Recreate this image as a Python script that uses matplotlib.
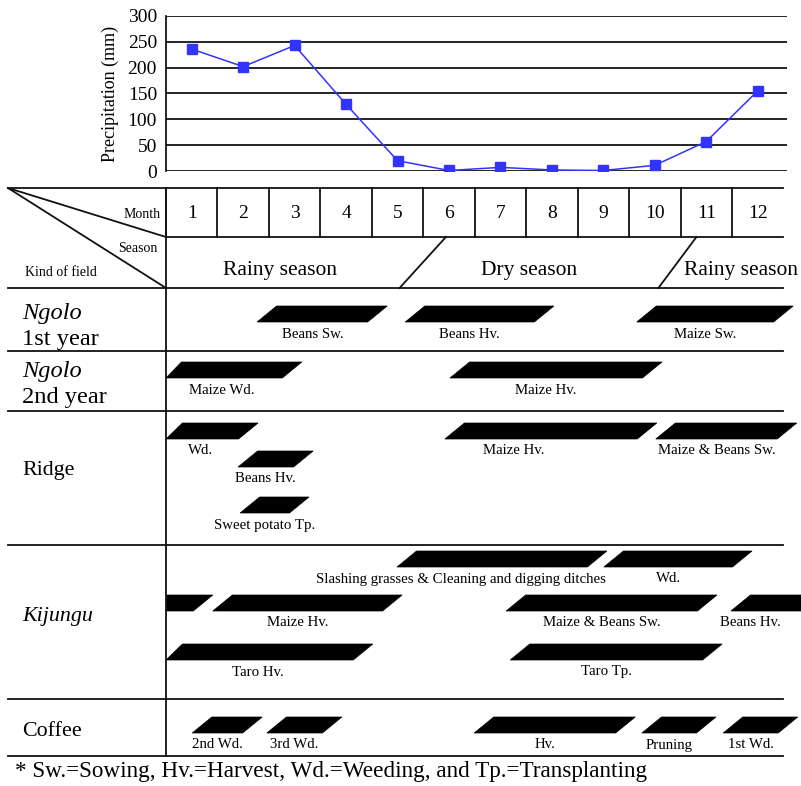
"""
Agricultural calendar with monthly precipitation
Top: precipitation line chart; bottom: work calendar per kind of field
Output: out.png
"""

import numpy as np
import matplotlib.pyplot as plt
from matplotlib.patches import Polygon

plt.rcParams["font.family"] = ["Liberation Serif", "DejaVu Serif"]

# ── Data ──────────────────────────────────────────────────────────────────────
MONTHS = list(range(1, 13))
PRECIP = [236, 202, 243, 129, 20, 1, 7, 2, 1, 11, 57, 155]   # mm

SEASONS       = ["Rainy season", "Dry season", "Rainy season"]
SEASON_X      = [2.22, 7.06, 11.18]                # label centre, months
SEASON_BREAKS = [(5.44, 4.54), (10.31, 9.57)]     # divider x at top / bottom

FIELDS       = ["Ngolo", "Ngolo", "Ridge", "Kijungu", "Coffee"]
FIELD_SUB    = ["1st year", "2nd year", "", "", ""]
FIELD_ITALIC = [True, True, False, True, False]

ACT_LABEL = ["Beans Sw.", "Beans Hv.", "Maize Sw.",
             "Maize Wd.", "Maize Hv.",
             "Wd.", "Beans Hv.", "Sweet potato Tp.", "Maize Hv.", "Maize & Beans Sw.",
             "Slashing grasses & Cleaning and digging ditches", "Wd.", "",
             "Maize Hv.", "Maize & Beans Sw.", "Beans Hv.", "Taro Hv.", "Taro Tp.",
             "2nd Wd.", "3rd Wd.", "Hv.", "Pruning", "1st Wd."]
ACT_FIELD = [0, 0, 0,
             1, 1,
             2, 2, 2, 2, 2,
             3, 3, 3, 3, 3, 3, 3, 3,
             4, 4, 4, 4, 4]
ACT_LANE  = [0, 0, 0,
             0, 0,
             0, 1, 2, 0, 0,
             0, 0, 1, 1, 1, 1, 2, 2,
             0, 0, 0, 0, 0]
ACT_START = [1.77, 4.65, 9.15,
             -0.08, 5.52,
             -0.06, 1.40, 1.44, 5.42, 9.52,
             4.49, 8.51, -0.36, 0.91, 6.61, 10.98, -0.06, 6.69,
             0.51, 1.96, 5.99, 9.25, 10.83]
ACT_END   = [4.30, 7.54, 12.19,
             2.64, 9.64,
             1.79, 2.86, 2.78, 9.54, 12.26,
             8.57, 11.39, 0.91, 4.59, 10.71, 12.75, 4.02, 10.81,
             1.87, 3.42, 9.12, 10.69, 12.28]

# ── Layout (pixels / month units) ─────────────────────────────────────────────
W, H   = 801, 786
X_LEFT = 166          # px of month 0
MW     = 51.45        # px per month
X0     = -X_LEFT / MW
X1     = (W - X_LEFT) / MW
XL     = (8 - X_LEFT) / MW   # left end of table lines

TOP, MONTH_BOT, SEASON_BOT = 188, 237, 288
ROW_EDGES = [288, 351, 411, 545, 699, 756]
FIELD_Y   = [313, 371, 471, 617, 731]
LANE_TOP  = [[306], [362], [423, 451, 497], [551, 595, 644], [717]]
BAR_H     = 16
SKEW      = 0.38
LABEL_SHIFT = {8: -0.54, 10: -0.60, 15: -0.31}

LC, LW = "#111111", 1.3
BIG, SMALL, TAG = 15.5, 10, 10.7

fig = plt.figure(figsize=(W / 100, H / 100), dpi=100, facecolor="white")

# ── Precipitation chart ───────────────────────────────────────────────────────
pax = fig.add_axes([X_LEFT / W, (H - 171) / H, 621 / W, 155 / H])
pax.plot(np.array(MONTHS) - 0.5, PRECIP, color="#3333ff", linewidth=1.1,
         marker="s", markersize=6.5, markeredgecolor="#3333ff")
pax.set_xlim(0, 621 / MW)
pax.set_ylim(0, 300)
pax.set_yticks(range(0, 301, 50))
pax.set_xticks([])
pax.grid(axis="y", color="black", linewidth=1.2)
pax.set_axisbelow(True)
for s in ["top", "right", "bottom"]:
    pax.spines[s].set_visible(False)
pax.spines["left"].set_linewidth(1.2)
pax.tick_params(axis="y", length=0, pad=6.5, labelsize=14)
pax.set_ylabel("Precipitation (mm)", fontsize=13, labelpad=6)

# ── Calendar table ────────────────────────────────────────────────────────────
ax = fig.add_axes([0, 0, 1, 1])
ax.set_xlim(X0, X1)
ax.set_ylim(H, 0)
ax.axis("off")

# header lines
ax.plot([XL, 12], [TOP, TOP], color=LC, lw=LW)
ax.plot([0, 12], [MONTH_BOT, MONTH_BOT], color=LC, lw=LW)
for m in range(0, 12):
    ax.plot([m, m], [TOP, MONTH_BOT], color=LC, lw=LW)
ax.plot([XL, 0], [TOP, MONTH_BOT], color=LC, lw=LW)
ax.plot([XL, 0], [TOP, SEASON_BOT], color=LC, lw=LW)
for xt, xb in SEASON_BREAKS:
    ax.plot([xt, xb], [MONTH_BOT, SEASON_BOT], color=LC, lw=LW)

# row separators and vertical divider
for y in ROW_EDGES:
    ax.plot([XL, 12], [y, y], color=LC, lw=LW)
ax.plot([0, 0], [TOP, ROW_EDGES[-1]], color=LC, lw=LW)

# header texts
for m in MONTHS:
    ax.text(m - 0.5, 213, str(m), ha="center", va="center", fontsize=14)
ax.text(-0.1, 214, "Month", ha="right", va="center", fontsize=SMALL)
ax.text(-0.16, 248, "Season", ha="right", va="center", fontsize=SMALL)
ax.text(XL + 0.33, 273, "Kind of field", ha="left", va="center", fontsize=SMALL)
for name, x in zip(SEASONS, SEASON_X):
    ax.text(x, 270, name, ha="center", va="center", fontsize=BIG)

# field names
for name, sub, ital, y in zip(FIELDS, FIELD_SUB, FIELD_ITALIC, FIELD_Y):
    fs = 17.6 if sub else 15.8
    ax.text(XL + 0.27, y, name, ha="left", va="center", fontsize=fs,
            style="italic" if ital else "normal")
    if sub:
        ax.text(XL + 0.27, y + 27, sub, ha="left", va="center", fontsize=fs)

# activity bars
for i, (lab, f, lane, s, e) in enumerate(zip(ACT_LABEL, ACT_FIELD, ACT_LANE,
                                             ACT_START, ACT_END)):
    top = LANE_TOP[f][lane]
    bot = top + BAR_H
    xs = np.clip([s, e - SKEW, e, s + SKEW], 0, None)
    ys = [bot, bot, top, top]
    ax.add_patch(Polygon(np.column_stack([xs, ys]), closed=True,
                         facecolor="black", edgecolor="black", lw=0.5))
    if lab:
        cx = (s + e - SKEW) / 2 + LABEL_SHIFT.get(i, 0)
        ax.text(cx, bot + 12, lab, ha="center", va="center", fontsize=TAG)

ax.text(XL + 0.14, 772,
        "* Sw.=Sowing, Hv.=Harvest, Wd.=Weeding, and Tp.=Transplanting",
        ha="left", va="center", fontsize=16.7)

fig.savefig("out.png", dpi=100, facecolor="white")
plt.close(fig)
